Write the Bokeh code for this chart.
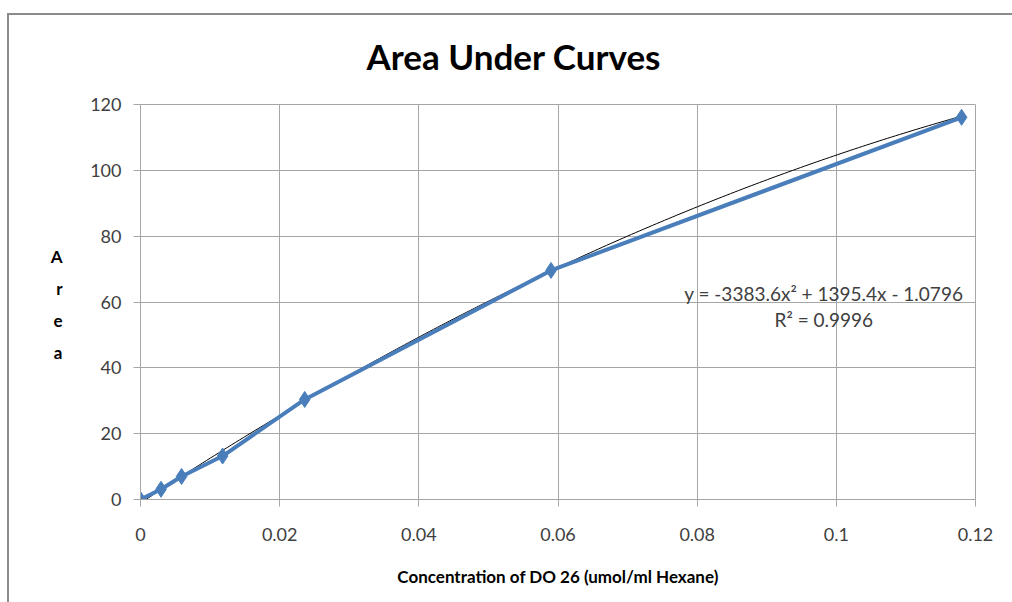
import numpy as np
from bokeh.plotting import figure
from bokeh.models import Label, Range1d, FixedTicker, LinearAxis, InlineStyleSheet
from bokeh.embed import file_html
from bokeh.resources import INLINE

conc = [0.0, 0.00295, 0.0059, 0.0118, 0.0236, 0.059, 0.118]
area = [0.0, 3.1, 7.0, 13.2, 30.4, 69.6, 116.1]
trend_coef = [-3383.6, 1395.4, -1.0796]
x_ticks = [0, 0.02, 0.04, 0.06, 0.08, 0.1, 0.12]
y_ticks = [0, 20, 40, 60, 80, 100, 120]
y_title_letters = ["A", "r", "e", "a"]
y_title_pos = [73.8, 64.1, 54.4, 44.7]

FONT = "Lato"
GRID = "#a6a6a6"
TXT = "#404040"
BLUE = "#4a7ebb"

p = figure(width=1012, height=602, output_backend="svg", toolbar_location=None,
           x_range=Range1d(0, 0.12), y_range=Range1d(0, 120),
           min_border_left=140, min_border_right=37, min_border_top=104, min_border_bottom=103)
p.outline_line_color = GRID
p.background_fill_color = "white"
p.border_fill_color = "white"

p.title.text = "Area Under Curves"
p.title.text_font = FONT
p.title.text_font_style = "bold"
p.title.text_font_size = "35px"
p.title.text_color = "black"
p.title.align = "left"
p.title.offset = 226
p.title.standoff = 55

for ax in (p.xaxis, p.yaxis):
    ax.axis_line_color = GRID
    ax.major_tick_line_color = GRID
    ax.minor_tick_line_color = None
    ax.major_tick_in = 0
    ax.major_tick_out = 7
    ax.major_label_text_font = FONT
    ax.major_label_text_font_size = "18px"
    ax.major_label_text_color = TXT
p.xaxis.ticker = FixedTicker(ticks=x_ticks)
p.yaxis.ticker = FixedTicker(ticks=y_ticks)
p.xaxis.major_label_overrides = {t: ("%g" % t) for t in x_ticks}
p.xaxis.major_label_standoff = 21
p.yaxis.major_label_standoff = 12
p.xaxis.axis_label = "Concentration of DO 26 (umol/ml Hexane)"
p.xaxis.axis_label_text_font = FONT
p.xaxis.axis_label_text_font_style = "bold"
p.xaxis.axis_label_text_font_size = "17px"
p.xaxis.axis_label_text_color = "black"
p.xaxis.axis_label_standoff = 22
p.grid.grid_line_color = GRID
p.grid.grid_line_width = 1

# stacked "Area" axis title, as an extra left axis carrying only letters
ytitle = LinearAxis(ticker=FixedTicker(ticks=y_title_pos),
                    major_label_overrides=dict(zip(y_title_pos, y_title_letters)),
                    axis_line_color=None, major_tick_line_color=None, minor_tick_line_color=None,
                    major_label_text_font=FONT, major_label_text_font_style="bold",
                    major_label_text_font_size="17px", major_label_text_color="black",
                    major_label_standoff=19)
p.add_layout(ytitle, "left")

# trendline from the displayed equation
tx = np.linspace(0, conc[-1], 200)
ty = trend_coef[0] * tx**2 + trend_coef[1] * tx + trend_coef[2]
p.line(tx, ty, line_color="black", line_width=1)

p.line(conc, area, line_color=BLUE, line_width=4)
p.scatter(conc, area, marker="diamond", size=16, fill_color=BLUE, line_color=BLUE)

eq = "y = -3383.6x\u00b2 + 1395.4x - 1.0796"
p.add_layout(Label(x=0.0982, y=62.6, text=eq, text_font=FONT, text_font_size="19px",
                   text_color=TXT, text_align="center", text_baseline="middle"))
p.add_layout(Label(x=0.0982, y=54.7, text="R\u00b2 = 0.9996", text_font=FONT, text_font_size="19px",
                   text_color=TXT, text_align="center", text_baseline="middle"))

# outer chart border (left and top edges visible in the window)
p.stylesheets = [InlineStyleSheet(css=":host { position: relative; } :host::after { content: ''; position: absolute; left: 7px; top: 13px; right: 0; bottom: 0; border-left: 2px solid #8c8c8c; border-top: 2px solid #8c8c8c; pointer-events: none; z-index: 10; }")]

open("out.html", "w").write(file_html(p, INLINE))
